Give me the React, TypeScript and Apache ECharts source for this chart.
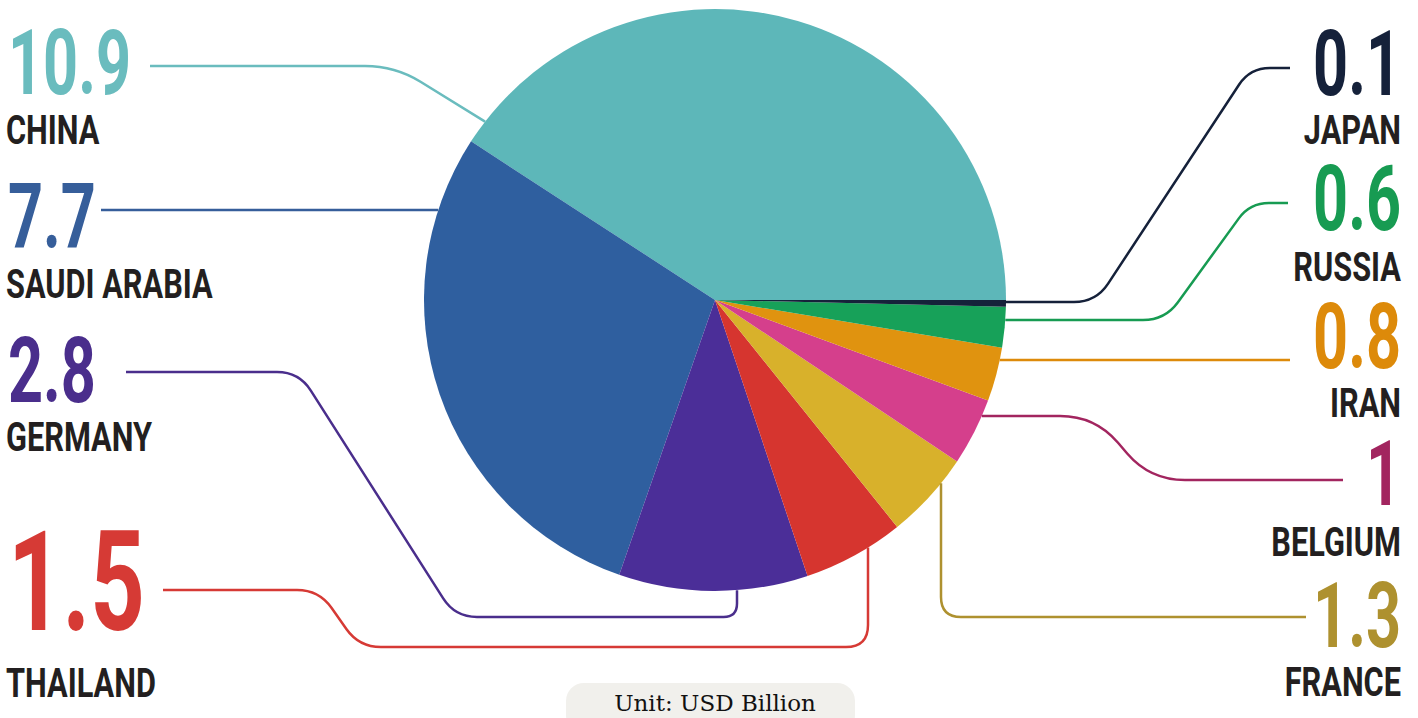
import React, { useEffect, useRef } from "react";
import * as echarts from "echarts";

// ---- data ----
const countries = ["China", "Saudi Arabia", "Germany", "Thailand", "France", "Belgium", "Iran", "Russia", "Japan"];
const values = [10.9, 7.7, 2.8, 1.5, 1.3, 1, 0.8, 0.6, 0.1];
const valueLabels = ["10.9", "7.7", "2.8", "1.5", "1.3", "1", "0.8", "0.6", "0.1"];
const pieColors = ["#5DB7B9", "#2F5F9F", "#4B2E98", "#D6352F", "#D8B12B", "#D53F8C", "#E0930F", "#17A159", "#15223A"];
const labelColors = ["#6ABCBE", "#365E9A", "#4A2E8C", "#D63A35", "#AE912F", "#A2255F", "#DD8A0A", "#179B52", "#15213A"];
const unitText = "Unit: USD Billion";

// ---- layout (positions only) ----
const CX = 715;
const CY = 300;
const R = 291;
type Lay = { side: "l" | "r"; numY: number; nameY: number; size: number; pts: number[][]; rad: number };
const layouts: Lay[] = [
  { side: "l", numY: 64, nameY: 130, size: 90, pts: [[150, 66], [395, 66], [560, 168]], rad: 30 },
  { side: "l", numY: 218, nameY: 284, size: 90, pts: [[101, 210], [600, 210]], rad: 20 },
  { side: "l", numY: 372, nameY: 437, size: 90, pts: [[126, 372], [299, 372], [455, 617], [737, 617], [737, 400]], rad: 22 },
  { side: "l", numY: 582, nameY: 683, size: 140, pts: [[163, 590], [319, 590], [359, 647], [868, 647], [868, 400]], rad: 22 },
  { side: "r", numY: 617, nameY: 682, size: 90, pts: [[1306, 617], [941, 617], [941, 400]], rad: 20 },
  { side: "r", numY: 475, nameY: 542, size: 90, pts: [[1343, 480], [1150, 480], [1095, 416], [900, 416]], rad: 35 },
  { side: "r", numY: 338, nameY: 403, size: 90, pts: [[1290, 360], [900, 360]], rad: 20 },
  { side: "r", numY: 200, nameY: 267, size: 90, pts: [[1288, 203], [1250, 203], [1165, 320], [900, 320]], rad: 22 },
  { side: "r", numY: 65, nameY: 130, size: 90, pts: [[1290, 68], [1250, 68], [1096, 302], [900, 302]], rad: 22 },
];

function clipToPie(pts: number[][]): number[][] {
  const out = pts.map((p) => [p[0], p[1]]);
  const n = out.length;
  const [ax, ay] = out[n - 2];
  const [bx, by] = out[n - 1];
  const dx = bx - ax, dy = by - ay;
  const fx = ax - CX, fy = ay - CY;
  const a = dx * dx + dy * dy;
  const b = 2 * (fx * dx + fy * dy);
  const c = fx * fx + fy * fy - R * R;
  const disc = b * b - 4 * a * c;
  if (disc >= 0) {
    const t = (-b - Math.sqrt(disc)) / (2 * a);
    if (t >= 0 && t <= 1) out[n - 1] = [ax + t * dx, ay + t * dy];
  }
  return out;
}

let registered = false;
function registerRoundLine() {
  if (registered) return;
  registered = true;
  const RoundLine = (echarts.graphic as any).extendShape({
    shape: { points: [] as number[][], r: 20 },
    buildPath(ctx: any, shape: any) {
      const p: number[][] = shape.points;
      if (!p || p.length < 2) return;
      ctx.moveTo(p[0][0], p[0][1]);
      for (let i = 1; i < p.length - 1; i++) {
        const [x0, y0] = p[i - 1];
        const [x1, y1] = p[i];
        const [x2, y2] = p[i + 1];
        const d1 = Math.hypot(x1 - x0, y1 - y0);
        const d2 = Math.hypot(x2 - x1, y2 - y1);
        const r = Math.min(shape.r, d1 / 2, d2 / 2);
        const ax = x1 - ((x1 - x0) / d1) * r;
        const ay = y1 - ((y1 - y0) / d1) * r;
        const bx = x1 + ((x2 - x1) / d2) * r;
        const by = y1 + ((y2 - y1) / d2) * r;
        ctx.lineTo(ax, ay);
        ctx.quadraticCurveTo(x1, y1, bx, by);
      }
      const last = p[p.length - 1];
      ctx.lineTo(last[0], last[1]);
    },
  });
  echarts.graphic.registerShape("roundLine", RoundLine);
}

const FONT = "Roboto, 'Noto Sans', sans-serif";
const NUM_SCALE_X = 0.68;
const NAME_SCALE_X = 0.75;

export default function App() {
  const ref = useRef<HTMLDivElement>(null);
  useEffect(() => {
    if (!ref.current) return;
    registerRoundLine();
    const chart = echarts.init(ref.current, null, { renderer: "svg" });

    const graphics: any[] = [];
    layouts.forEach((lay, i) => {
      graphics.push({
        type: "roundLine",
        silent: true,
        z: 10,
        shape: { points: clipToPie(lay.pts), r: lay.rad },
        style: { stroke: labelColors[i], lineWidth: 2.5, fill: "none" },
      });
      const left = lay.side === "l";
      const x = left ? 8 : 1401;
      graphics.push({
        type: "text",
        x,
        y: lay.numY,
        scaleX: NUM_SCALE_X,
        silent: true,
        z: 11,
        style: {
          text: valueLabels[i],
          fill: labelColors[i],
          font: `bold ${lay.size}px ${FONT}`,
          align: left ? "left" : "right",
          verticalAlign: "middle",
          textAlign: left ? "left" : "right",
          textVerticalAlign: "middle",
        },
      });
      graphics.push({
        type: "text",
        x: left ? 6 : 1401,
        y: lay.nameY,
        scaleX: NAME_SCALE_X,
        silent: true,
        z: 11,
        style: {
          text: countries[i].toUpperCase(),
          fill: "#231F20",
          font: `bold 41px ${FONT}`,
          align: left ? "left" : "right",
          verticalAlign: "middle",
          textAlign: left ? "left" : "right",
          textVerticalAlign: "middle",
        },
      });
    });
    graphics.push({
      type: "rect",
      silent: true,
      z: 5,
      shape: { x: 566, y: 683, width: 289, height: 50, r: 18 },
      style: { fill: "#F1F0EC" },
    });
    graphics.push({
      type: "text",
      x: 715,
      y: 703,
      silent: true,
      z: 6,
      style: {
        text: unitText,
        fill: "#111111",
        font: "23px 'DejaVu Serif', serif",
        align: "center",
        verticalAlign: "middle",
        textAlign: "center",
        textVerticalAlign: "middle",
      },
    });

    chart.setOption({
      animation: false,
      backgroundColor: "#FFFFFF",
      series: [
        {
          type: "pie",
          center: [CX, CY],
          radius: R,
          startAngle: 0,
          clockwise: false,
          silent: true,
          label: { show: false },
          labelLine: { show: false },
          emphasis: { disabled: true },
          itemStyle: { borderWidth: 0 },
          data: countries.map((name, i) => ({
            name,
            value: values[i],
            itemStyle: { color: pieColors[i] },
          })),
        },
      ],
      graphic: { elements: graphics },
    });
    return () => chart.dispose();
  }, []);
  return <div ref={ref} style={{ position: "absolute", left: 0, top: 0, width: 1418, height: 718 }} />;
}
